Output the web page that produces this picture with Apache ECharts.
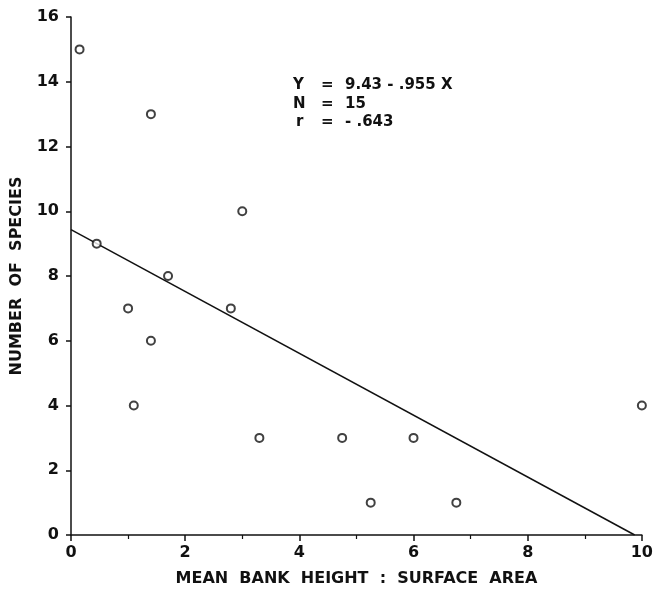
<!DOCTYPE html>
<html>
<head>
<meta charset="utf-8">
<script src="https://cdn.jsdelivr.net/npm/echarts@6/dist/echarts.min.js"></script>
<style>
  html, body { margin: 0; padding: 0; background: #fff; }
  #chart { width: 656px; height: 592px; }
</style>
</head>
<body>
<div id="chart"></div>
<script>
// Observed sites: mean bank height : surface area ratio vs. number of species
var bankRatio = [0.15, 0.45, 1.4, 1.7, 1.0, 2.8, 1.4, 1.1, 3.0, 3.3, 4.75, 5.25, 6.0, 6.75, 10.0];
var speciesCount = [15, 9, 13, 8, 7, 7, 6, 4, 10, 3, 3, 1, 3, 1, 4];

// Least-squares fit reported on the chart
var fitIntercept = 9.43;
var fitSlope = -0.955;
var fitN = 15;
var fitR = '-.643';

var xTicks = [0, 2, 4, 6, 8, 10];
var yTicks = [0, 2, 4, 6, 8, 10, 12, 14, 16];

var points = bankRatio.map(function (x, i) { return [x, speciesCount[i]]; });
var fitEnd = -fitIntercept / fitSlope;
var fitLine = [[0, fitIntercept], [fitEnd, fitIntercept + fitSlope * fitEnd]];

var FONT = 'DejaVu Sans';
var NOTE_FONT = 'bold 15px ' + FONT;
var chart = echarts.init(document.getElementById('chart'), null, { renderer: 'canvas' });

function note(text, left, top) {
  return { type: 'text', left: left, top: top, style: { text: text, font: NOTE_FONT, fill: '#111' } };
}

chart.setOption({
  backgroundColor: '#ffffff',
  animation: false,
  grid: { left: 71, right: 14, top: 17, bottom: 57 },
  xAxis: {
    type: 'value',
    min: xTicks[0],
    max: xTicks[xTicks.length - 1],
    interval: 2,
    name: 'MEAN  BANK  HEIGHT  :  SURFACE  AREA',
    nameLocation: 'middle',
    nameGap: 36,
    nameTextStyle: { fontFamily: FONT, fontWeight: 'bold', fontSize: 16, color: '#111' },
    axisLine: { lineStyle: { color: '#111', width: 1.5 } },
    axisTick: { length: 6, lineStyle: { color: '#111', width: 1.5 } },
    minorTick: { show: true, splitNumber: 2, length: 4, lineStyle: { color: '#111', width: 1.2 } },
    axisLabel: { margin: 10, fontFamily: FONT, fontWeight: 'bold', fontSize: 16, color: '#111' },
    splitLine: { show: false }
  },
  yAxis: {
    type: 'value',
    min: yTicks[0],
    max: yTicks[yTicks.length - 1],
    interval: 2,
    name: 'NUMBER  OF  SPECIES',
    nameLocation: 'middle',
    nameGap: 46,
    nameTextStyle: { fontFamily: FONT, fontWeight: 'bold', fontSize: 16, color: '#111' },
    axisLine: { show: true, lineStyle: { color: '#111', width: 1.5 } },
    axisTick: { show: true, length: 5, lineStyle: { color: '#111', width: 1.5 } },
    axisLabel: { margin: 12, fontFamily: FONT, fontWeight: 'bold', fontSize: 16, color: '#111' },
    splitLine: { show: false }
  },
  series: [
    {
      type: 'line',
      data: fitLine,
      symbol: 'none',
      lineStyle: { color: '#111', width: 1.5 },
      z: 2
    },
    {
      type: 'scatter',
      data: points,
      symbol: 'circle',
      symbolSize: 8,
      itemStyle: { color: '#ffffff', borderColor: '#111', borderWidth: 2 },
      z: 3
    }
  ],
  graphic: [
    note('Y', 293, 78),
    note('=', 321, 78),
    note(fitIntercept + ' - ' + String(-fitSlope).replace(/^0/, '') + ' X', 345, 78),
    note('N', 293, 97),
    note('=', 321, 97),
    note(String(fitN), 345, 97),
    note('r', 296, 115),
    note('=', 321, 115),
    note(fitR.replace('-', '- '), 345, 115)
  ]
});
</script>
</body>
</html>
